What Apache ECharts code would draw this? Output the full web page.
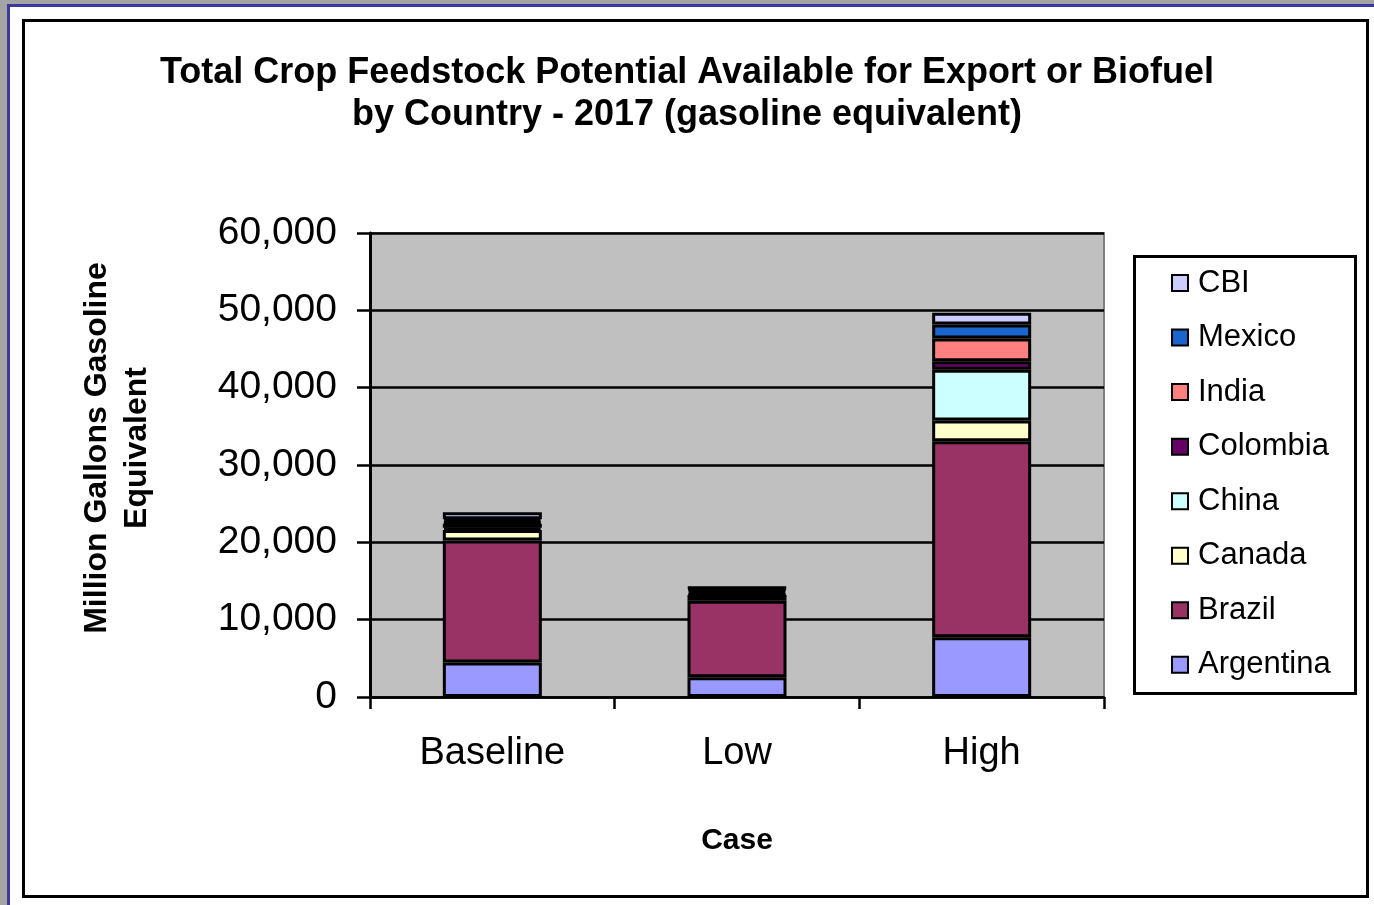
<!DOCTYPE html>
<html>
<head>
<meta charset="utf-8">
<title>Total Crop Feedstock Potential</title>
<script src="https://cdn.jsdelivr.net/npm/echarts@6/dist/echarts.min.js"></script>
<style>
  html, body { margin: 0; padding: 0; width: 1374px; height: 905px; overflow: hidden; background: #a4a4a4; }
  #frame { position: absolute; left: 7px; top: 4px; right: 0; bottom: 0; background: #fff;
           border-left: 3px solid #3a3a9e; border-top: 3px solid #3a3a9e; }
  #chart { position: absolute; left: 0; top: 0; width: 1374px; height: 905px; }
</style>
</head>
<body>
<div id="frame"></div>
<div id="chart"></div>
<script>
// Scenario categories on the x axis
const cases = ['Baseline', 'Low', 'High'];

// Million gallons gasoline equivalent, per country, per case
const argentina = [4450, 2550, 7720];
const brazil    = [15800, 9900, 25360];
const canada    = [1350, 750, 2680];
const china     = [300, 200, 6570];
const colombia  = [500, 350, 1100];
const india     = [250, 200, 2930];
const mexico    = [330, 150, 1810];
const cbi       = [900, 60, 1530];

// Y axis ticks
const yTicks = [0, 10000, 20000, 30000, 40000, 50000, 60000];

const FONT = '"Liberation Sans", Arial, sans-serif';

const stackOrder = [
  { name: 'Argentina', data: argentina, color: '#9999FF' },
  { name: 'Brazil',    data: brazil,    color: '#993366' },
  { name: 'Canada',    data: canada,    color: '#FFFFCC' },
  { name: 'China',     data: china,     color: '#CCFFFF' },
  { name: 'Colombia',  data: colombia,  color: '#660066' },
  { name: 'India',     data: india,     color: '#FF8080' },
  { name: 'Mexico',    data: mexico,    color: '#1A66CC' },
  { name: 'CBI',       data: cbi,       color: '#CCCCFF' }
];

const chart = echarts.init(document.getElementById('chart'), null, { renderer: 'canvas' });

const option = {
  backgroundColor: 'transparent',
  animation: false,
  grid: {
    left: 370, top: 233, right: 270, bottom: 208,
    show: true, backgroundColor: '#C0C0C0', borderColor: '#808080', borderWidth: 2,
    containLabel: false
  },
  legend: {
    orient: 'vertical',
    left: 1171, top: 267,
    padding: 0,
    itemWidth: 16, itemHeight: 16,
    itemGap: 22.55,
    icon: 'rect',
    itemStyle: { borderColor: '#000', borderWidth: 2 },
    textStyle: { fontFamily: FONT, fontSize: 31, color: '#000', lineHeight: 32, padding: [0, 0, 0, 5] },
    data: ['CBI', 'Mexico', 'India', 'Colombia', 'China', 'Canada', 'Brazil', 'Argentina']
  },
  xAxis: {
    type: 'category',
    data: cases,
    axisLine: { lineStyle: { color: '#000', width: 2.5 } },
    axisTick: { show: true, alignWithLabel: false, length: 12, lineStyle: { color: '#000', width: 2.5 } },
    axisLabel: { fontFamily: FONT, fontSize: 38, color: '#000', margin: 38 },
    splitLine: { show: false }
  },
  yAxis: {
    type: 'value',
    min: yTicks[0],
    max: yTicks[yTicks.length - 1],
    interval: yTicks[1] - yTicks[0],
    axisLine: { show: true, lineStyle: { color: '#000', width: 3 } },
    axisTick: { show: true, length: 13, lineStyle: { color: '#000', width: 2.5 } },
    axisLabel: {
      fontFamily: FONT, fontSize: 39, color: '#000', margin: 33, padding: [4, 0, 0, 0],
      formatter: v => v.toLocaleString('en-US')
    },
    splitLine: { show: true, lineStyle: { color: '#000', width: 2.5 } }
  },
  series: stackOrder.map(s => ({
    name: s.name,
    type: 'bar',
    stack: 'total',
    data: s.data,
    barWidth: 99,
    itemStyle: { color: s.color, borderColor: '#000', borderWidth: 3 },
    emphasis: { disabled: true }
  })),
  graphic: [
    // chart title
    { type: 'text', x: 687, y: 94,
      style: { text: 'Total Crop Feedstock Potential Available for Export or Biofuel\nby Country - 2017 (gasoline equivalent)',
               fontFamily: FONT, fontSize: 36, fontWeight: 'bold', fill: '#000',
               align: 'center', verticalAlign: 'middle', lineHeight: 42 } },
    // outer chart frame
    { type: 'rect', shape: { x: 23.5, y: 20.5, width: 1344, height: 876 },
      style: { fill: null, stroke: '#000', lineWidth: 3 }, z: 100 },
    // legend box
    { type: 'rect', shape: { x: 1134.5, y: 256.5, width: 221, height: 437 },
      style: { fill: null, stroke: '#000', lineWidth: 3 }, z: 100 },
    // y axis title
    { type: 'text', x: 117, y: 448, rotation: Math.PI / 2,
      style: { text: 'Million Gallons Gasoline\nEquivalent', fontFamily: FONT, fontSize: 32,
               fontWeight: 'bold', fill: '#000', align: 'center', verticalAlign: 'middle', lineHeight: 40 } },
    // x axis title
    { type: 'text', x: 737, y: 841,
      style: { text: 'Case', fontFamily: FONT, fontSize: 30, fontWeight: 'bold', fill: '#000',
               align: 'center', verticalAlign: 'middle' } }
  ]
};

chart.setOption(option);
</script>
</body>
</html>
